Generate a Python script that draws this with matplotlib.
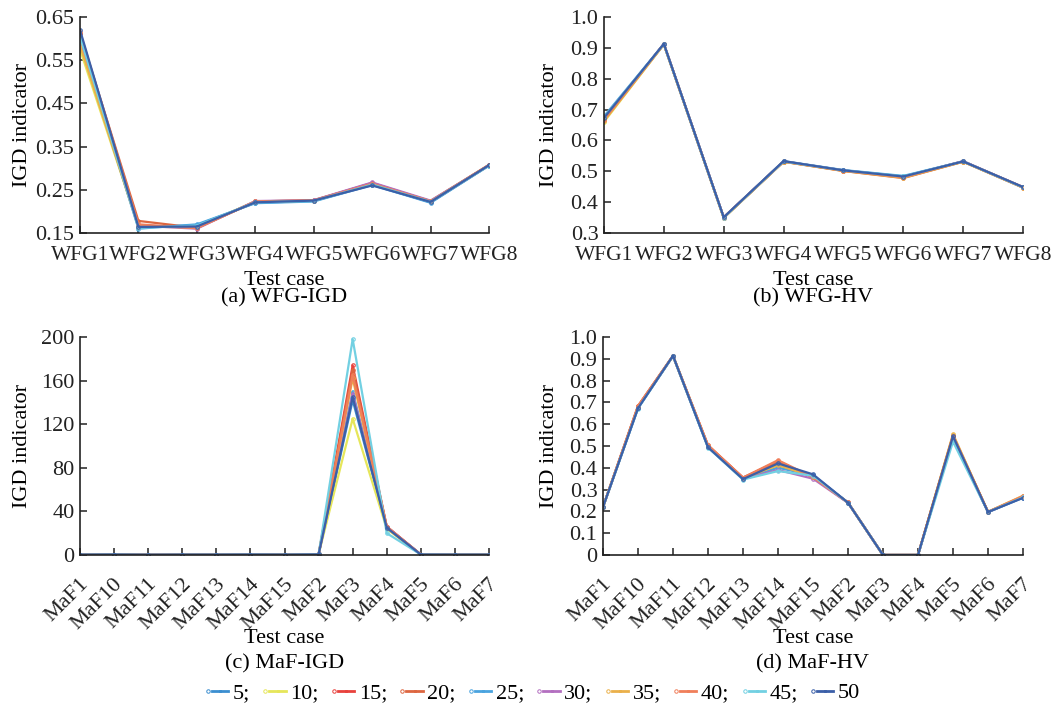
import numpy as np
import matplotlib
matplotlib.use("Agg")
import matplotlib.pyplot as plt
import matplotlib.transforms as mtransforms
from matplotlib.lines import Line2D
from matplotlib.legend_handler import HandlerTuple

plt.rcParams['font.family'] = ['Liberation Serif', 'DejaVu Serif']
plt.rcParams['font.size'] = 16

# population sizes compared in the runs
sizes = ['5', '10', '15', '20', '25', '30', '35', '40', '45', '50']
colors = ['#3b8ed0', '#e6e65a', '#e8413c', '#dd6640', '#4aa3df',
          '#b36fc0', '#eab04a', '#f07f5a', '#72d0e2', '#3b5fa8']

wfg_cases = ['WFG1', 'WFG2', 'WFG3', 'WFG4', 'WFG5', 'WFG6', 'WFG7', 'WFG8']
maf_cases = ['MaF1', 'MaF10', 'MaF11', 'MaF12', 'MaF13', 'MaF14', 'MaF15',
             'MaF2', 'MaF3', 'MaF4', 'MaF5', 'MaF6', 'MaF7']

wfg_igd = [
    [0.600, 0.163, 0.168, 0.220, 0.224, 0.262, 0.221, 0.306],
    [0.575, 0.166, 0.164, 0.223, 0.226, 0.264, 0.224, 0.307],
    [0.610, 0.168, 0.162, 0.222, 0.225, 0.266, 0.223, 0.307],
    [0.612, 0.178, 0.162, 0.223, 0.226, 0.265, 0.224, 0.308],
    [0.598, 0.160, 0.170, 0.219, 0.223, 0.261, 0.220, 0.306],
    [0.590, 0.167, 0.160, 0.224, 0.226, 0.267, 0.225, 0.307],
    [0.585, 0.165, 0.163, 0.222, 0.225, 0.263, 0.223, 0.307],
    [0.615, 0.170, 0.161, 0.223, 0.225, 0.264, 0.223, 0.307],
    [0.605, 0.162, 0.167, 0.221, 0.224, 0.262, 0.222, 0.306],
    [0.620, 0.164, 0.165, 0.221, 0.225, 0.260, 0.222, 0.307],
]

wfg_hv = [
    [0.672, 0.912, 0.350, 0.532, 0.503, 0.483, 0.532, 0.448],
    [0.660, 0.911, 0.349, 0.531, 0.502, 0.480, 0.531, 0.448],
    [0.668, 0.912, 0.351, 0.532, 0.502, 0.481, 0.532, 0.449],
    [0.665, 0.913, 0.350, 0.531, 0.501, 0.478, 0.531, 0.447],
    [0.678, 0.912, 0.350, 0.533, 0.504, 0.485, 0.532, 0.448],
    [0.670, 0.913, 0.351, 0.532, 0.503, 0.482, 0.533, 0.448],
    [0.663, 0.911, 0.349, 0.531, 0.501, 0.479, 0.531, 0.447],
    [0.667, 0.912, 0.350, 0.532, 0.502, 0.481, 0.532, 0.448],
    [0.675, 0.912, 0.350, 0.532, 0.503, 0.484, 0.532, 0.448],
    [0.673, 0.913, 0.351, 0.533, 0.503, 0.483, 0.532, 0.449],
]

maf_igd = [
    [0.3, 0.4, 0.2, 0.3, 0.3, 0.4, 0.3, 0.5, 142, 25, 0.4, 0.3, 0.3],
    [0.3, 0.4, 0.2, 0.3, 0.3, 0.4, 0.3, 0.5, 125, 24, 0.4, 0.3, 0.3],
    [0.3, 0.4, 0.2, 0.3, 0.3, 0.4, 0.3, 0.5, 174, 26, 0.4, 0.3, 0.3],
    [0.3, 0.4, 0.2, 0.3, 0.3, 0.4, 0.3, 0.5, 170, 26, 0.4, 0.3, 0.3],
    [0.3, 0.4, 0.2, 0.3, 0.3, 0.4, 0.3, 0.5, 150, 25, 0.4, 0.3, 0.3],
    [0.3, 0.4, 0.2, 0.3, 0.3, 0.4, 0.3, 0.5, 148, 26, 0.4, 0.3, 0.3],
    [0.3, 0.4, 0.2, 0.3, 0.3, 0.4, 0.3, 0.5, 162, 25, 0.4, 0.3, 0.3],
    [0.3, 0.4, 0.2, 0.3, 0.3, 0.4, 0.3, 0.5, 165, 26, 0.4, 0.3, 0.3],
    [0.3, 0.4, 0.2, 0.3, 0.3, 0.4, 0.3, 0.5, 198, 20, 0.4, 0.3, 0.3],
    [0.3, 0.4, 0.2, 0.3, 0.3, 0.4, 0.3, 0.5, 145, 25, 0.4, 0.3, 0.3],
]

maf_hv = [
    [0.220, 0.675, 0.913, 0.495, 0.350, 0.405, 0.365, 0.240, 0.0, 0.0, 0.540, 0.197, 0.265],
    [0.220, 0.680, 0.913, 0.500, 0.352, 0.410, 0.362, 0.240, 0.0, 0.0, 0.550, 0.198, 0.270],
    [0.220, 0.682, 0.913, 0.502, 0.355, 0.430, 0.358, 0.241, 0.0, 0.0, 0.548, 0.197, 0.268],
    [0.221, 0.683, 0.914, 0.503, 0.354, 0.428, 0.356, 0.240, 0.0, 0.0, 0.545, 0.198, 0.267],
    [0.220, 0.674, 0.913, 0.494, 0.348, 0.400, 0.366, 0.240, 0.0, 0.0, 0.535, 0.197, 0.263],
    [0.220, 0.676, 0.913, 0.497, 0.349, 0.390, 0.350, 0.239, 0.0, 0.0, 0.542, 0.197, 0.265],
    [0.220, 0.678, 0.913, 0.498, 0.351, 0.412, 0.360, 0.240, 0.0, 0.0, 0.555, 0.198, 0.272],
    [0.221, 0.684, 0.914, 0.504, 0.355, 0.435, 0.357, 0.241, 0.0, 0.0, 0.548, 0.198, 0.270],
    [0.220, 0.672, 0.913, 0.493, 0.346, 0.385, 0.364, 0.240, 0.0, 0.0, 0.520, 0.197, 0.264],
    [0.220, 0.673, 0.914, 0.494, 0.348, 0.420, 0.370, 0.240, 0.0, 0.0, 0.545, 0.197, 0.262],
]


def draw(ax, cases, series, yticks, yfmt, caption, rotate, ylab_px):
    x = np.arange(len(cases))
    for vals, c in zip(series, colors):
        ax.plot(x, vals, color=c, lw=1.6, marker='o', ms=2.5, mfc='none', mew=0.8)
    ax.set_xlim(0, len(cases) - 1)
    ax.set_ylim(yticks[0], yticks[-1])
    ax.set_yticks(yticks)
    ax.set_yticklabels([yfmt(v) for v in yticks])
    ax.set_xticks(x)
    ax.spines['top'].set_visible(False)
    ax.spines['right'].set_visible(False)
    for s in ('left', 'bottom'):
        ax.spines[s].set_linewidth(1.2)
        ax.spines[s].set_color('#222222')
    ax.tick_params(direction='in', length=5, width=1.1, colors='#222222')
    ax.tick_params(axis='y', pad=4)
    if rotate:
        ax.set_xticklabels(cases, rotation=45, ha='right', va='center',
                           rotation_mode='anchor')
        ax.tick_params(axis='x', pad=19)
        shift = mtransforms.ScaledTranslation(6 / 100, 0, ax.figure.dpi_scale_trans)
        for lab in ax.get_xticklabels():
            lab.set_transform(lab.get_transform() + shift)
        label_y = -0.381
    else:
        ax.set_xticklabels(cases, fontsize=15.5)
        ax.tick_params(axis='x', pad=9)
        label_y = -0.22
    ax.set_xlabel('Test case')
    ax.xaxis.set_label_coords(0.5, label_y)
    ax.xaxis.label.set_va('center')
    ax.set_ylabel('IGD indicator')
    w = ax.get_position().width * W
    ax.yaxis.set_label_coords(-ylab_px / w, 0.5)
    ax.yaxis.label.set_va('center')
    ax.text(0.5, caption[1], caption[0], transform=ax.transAxes, ha='center', va='center')


W, H = 1064, 713
fig = plt.figure(figsize=(W / 100, H / 100), dpi=100)

def box(l, t, r, b):
    return [l / W, 1 - b / H, (r - l) / W, (b - t) / H]

ax_a = fig.add_axes(box(80, 17, 489, 233))
ax_b = fig.add_axes(box(604, 17, 1023, 233))
ax_c = fig.add_axes(box(80, 337, 489, 555))
ax_d = fig.add_axes(box(603, 337, 1023, 555))

draw(ax_a, wfg_cases, wfg_igd, [0.15, 0.25, 0.35, 0.45, 0.55, 0.65],
     lambda v: f'{v:.2f}', ('(a) WFG-IGD', -0.30), False, 58)
draw(ax_b, wfg_cases, wfg_hv, [0.3, 0.4, 0.5, 0.6, 0.7, 0.8, 0.9, 1.0],
     lambda v: f'{v:.1f}', ('(b) WFG-HV', -0.30), False, 54)
draw(ax_c, maf_cases, maf_igd, [0, 40, 80, 120, 160, 200],
     lambda v: f'{v:d}', ('(c) MaF-IGD', -0.50), True, 58)
draw(ax_d, maf_cases, maf_hv, [0, 0.1, 0.2, 0.3, 0.4, 0.5, 0.6, 0.7, 0.8, 0.9, 1.0],
     lambda v: '0' if v == 0 else f'{v:.1f}', ('(d) MaF-HV', -0.50), True, 53)

handles = []
for c in colors:
    dot = Line2D([], [], ls='none', marker='o', ms=2.5, mfc='none', mec=c, mew=0.7)
    seg = Line2D([], [], color=c, lw=2)
    handles.append((dot, seg, seg))
labels = [s + ';' for s in sizes[:-1]] + [sizes[-1]]
fig.legend(handles, labels, loc='center', bbox_to_anchor=(0.5, 1 - 693 / H), ncol=10,
           frameon=False, handler_map={tuple: HandlerTuple(ndivide=None, pad=0.0)},
           handlelength=1.1, handletextpad=0.2, columnspacing=0.5, fontsize=16)

fig.savefig('out.png', dpi=100)
